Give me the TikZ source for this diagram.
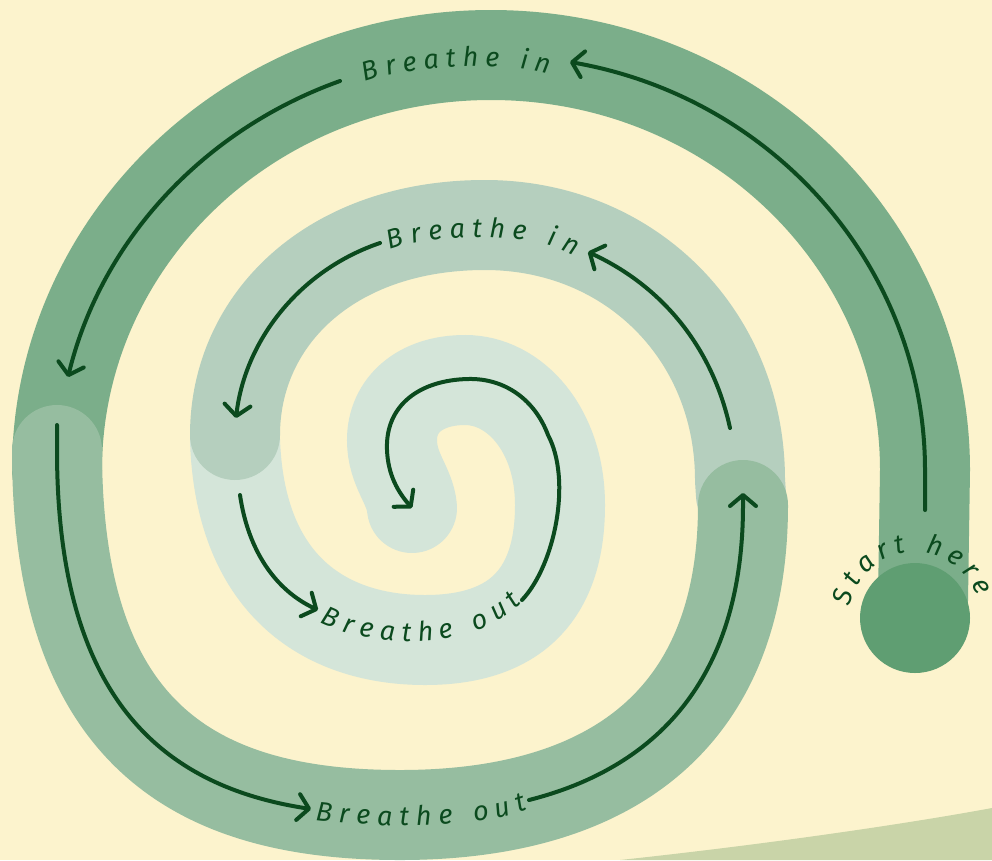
\documentclass[tikz,border=0pt]{standalone}
\usepackage{fontspec}
\newfontfamily\breathfont{Fira Sans}
\usetikzlibrary{arrows.meta, decorations.text}

\definecolor{cream}{HTML}{FCF3CD}
\definecolor{hill}{HTML}{C9D4A8}
\definecolor{bandone}{HTML}{7BAE8A}
\definecolor{bandtwo}{HTML}{96BDA0}
\definecolor{bandthree}{HTML}{B5CFBE}
\definecolor{bandfour}{HTML}{D4E5D9}
\definecolor{startdot}{HTML}{5F9E72}
\definecolor{ink}{HTML}{0B4A1E}

\newcommand\breathstyle{\breathfont\itshape\fontsize{27}{30}\selectfont\color{ink}}

\begin{document}
\begin{tikzpicture}[x=1pt, y=-1pt,
    band/.style={line width=90pt, line cap=round},
    flow/.style={-{Straight Barb[length=11pt, width=26pt, round]}, line width=4pt,
      line cap=round, ink},
    breath/.style={decorate, decoration={text along path, text align=fit to path,
      text={|\breathstyle|#1}}}
  ]
  \useasboundingbox (0,0) rectangle (992,860);
  \fill[cream] (0,0) rectangle (992,860);
  \fill[hill] (620,860) .. controls (760,845) and (900,825) .. (992,808) -- (992,860) -- cycle;

  % spiral bands
  \draw[band, bandone] (923,600) -- (925,470) .. controls (925,241) and (731,55) .. (491,55)
    .. controls (251,55) and (57,241) .. (57,470);
  \draw[band, bandfour] (235,440) .. controls (240,590) and (330,640) .. (425,640)
    .. controls (520,640) and (560,590) .. (560,505)
    .. controls (560,430) and (515,380) .. (465,380)
    .. controls (420,380) and (392,405) .. (392,440)
    .. controls (392,470) and (410,485) .. (412,508);
  \draw[band, bandthree] (741,495) -- (740,480) .. controls (740,335) and (630,225) .. (485,225)
    .. controls (330,225) and (235,320) .. (235,435);
  \draw[band, bandtwo] (57,450) .. controls (57,730) and (190,815) .. (400,815)
    .. controls (610,815) and (743,720) .. (743,505);

  \coordinate (start) at (915,618);
  \fill[startdot] (start) circle[radius=55pt];

  % arrows
  \draw[flow] (925,510) -- (925,470) .. controls (925,270) and (776,98) .. (570,62);
  \draw[flow] (340,81) .. controls (203,130) and (101,241) .. (68,377);
  \draw[flow] (57,425) -- (57,450) .. controls (57,688) and (153,785) .. (311,809);
  \draw[flow] (529,800) .. controls (663,766) and (743,672) .. (743,505) -- (743,493);
  \draw[flow] (730,428) .. controls (712,345) and (660,285) .. (588,252);
  \draw[flow] (380,243) .. controls (300,270) and (245,340) .. (236,418);
  \draw[flow] (240,495) .. controls (248,550) and (275,590) .. (318,610);
  \draw[flow] (522,600) .. controls (555,565) and (572,480) .. (548,435)
    .. controls (535,400) and (505,378) .. (468,379)
    .. controls (420,380) and (385,405) .. (387,450)
    .. controls (388,475) and (398,492) .. (412,508);

  % labels
  \path[breath=Breathe in] (365,82) .. controls (410,66) and (500,60) .. (549,74);
  \path[breath=Breathe in] (390,250) .. controls (430,234) and (530,230) .. (574,256);
  \path[breath=Breathe out] (315,820) .. controls (380,828) and (470,830) .. (528,810);
  \path[breath=Breathe out] (320,622) .. controls (375,650) and (470,652) .. (522,603);
  \path[breath=Start here] ([shift={(170:66pt)}]start) arc[start angle=170, end angle=19, radius=66pt];
\end{tikzpicture}
\end{document}
